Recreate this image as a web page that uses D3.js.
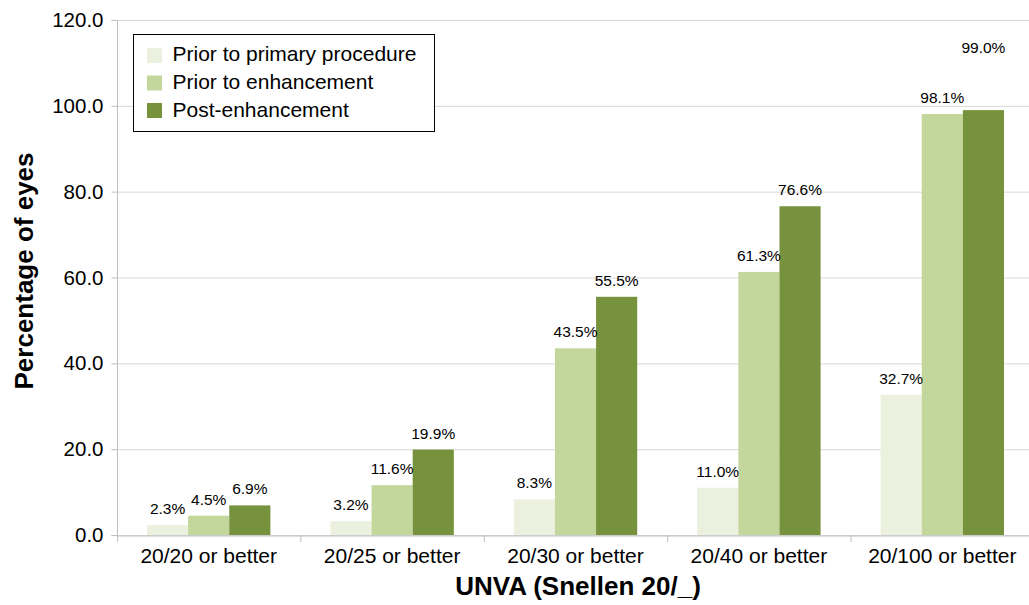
<!DOCTYPE html>
<html><head><meta charset="utf-8">
<script src="https://cdn.jsdelivr.net/npm/d3@7"></script>
<style>body{margin:0;background:#fff}svg{display:block;font-family:"Liberation Sans",Arial,sans-serif}</style>
</head><body><svg id="c" width="1029" height="605"></svg>
<script>
const categories = ["20/20 or better","20/25 or better","20/30 or better","20/40 or better","20/100 or better"];
const seriesNames = ["Prior to primary procedure","Prior to enhancement","Post-enhancement"];
const priorPrimary = [2.3, 3.2, 8.3, 11.0, 32.7];
const priorEnh = [4.5, 11.6, 43.5, 61.3, 98.1];
const postEnh = [6.9, 19.9, 55.5, 76.6, 99.0];
const yTicks = [0, 20, 40, 60, 80, 100, 120];
const colors = ["#EBF1DE", "#C3D69B", "#76923C"];
const series = [priorPrimary, priorEnh, postEnh];

const svg = d3.select("#c");
const m = {l:117, t:20, r:1034, b:535};
const x = d3.scaleBand().domain(categories).range([m.l, m.r]).paddingInner(0).paddingOuter(0);
const y = d3.scaleLinear().domain([0,120]).range([m.b, m.t]);
const inner = d3.scaleBand().domain(d3.range(series.length)).range([30, x.bandwidth()-30]).padding(0);

// gridlines
svg.append("g").selectAll("line").data(yTicks).join("line")
  .attr("x1", m.l).attr("x2", 1029).attr("y1", d=>y(d)+0.5).attr("y2", d=>y(d)+0.5)
  .attr("stroke", "#d9d9d9").attr("stroke-width", 1);

// y axis
const ya = svg.append("g").attr("transform", `translate(${m.l+0.5},0)`)
  .call(d3.axisLeft(y).tickValues(yTicks).tickFormat(d3.format(".1f")).tickSize(6).tickPadding(8));
ya.select(".domain").attr("stroke", "#bfbfbf").attr("d", `M-6,${m.b+0.5}H0V${m.t+0.5}H-6`);
ya.selectAll(".tick line").attr("stroke", "#bfbfbf");
ya.selectAll(".tick text").attr("font-size", 20.5).attr("fill", "#000").attr("font-family", "Liberation Sans, Arial, sans-serif");

// bars
const groups = svg.append("g").selectAll("g").data(categories).join("g")
  .attr("transform", d=>`translate(${x(d)},0)`);
groups.selectAll("rect").data((c,i)=>series.map((s,k)=>({k, v:s[i]}))).join("rect")
  .attr("x", d=>inner(d.k)).attr("width", inner.bandwidth())
  .attr("y", d=>y(d.v)).attr("height", d=>y(0)-y(d.v))
  .attr("fill", d=>colors[d.k]);

// data labels with simple collision avoidance
groups.each(function(c, i){
  const g = d3.select(this);
  let prev = null;
  series.forEach((s, k) => {
    const cx = inner(k) + inner.bandwidth()/2;
    const t = g.append("text").attr("x", cx)
      .attr("text-anchor", "middle").attr("font-size", 15.5).attr("fill", "#000")
      .text(s[i].toFixed(1) + "%");
    const w = t.node().getComputedTextLength();
    let ly = y(s[i]) - 11;
    if (prev && Math.abs(ly - prev.y) < 16 && (cx - w/2) < (prev.x + prev.w/2)) ly = prev.y - 50;
    t.attr("y", ly);
    prev = {x: cx, y: ly, w};
  });
});

// x axis
const xa = svg.append("g").attr("transform", `translate(0,${m.b+0.5})`)
  .call(d3.axisBottom(x).tickSize(0));
xa.select(".domain").attr("stroke", "#bfbfbf");
xa.selectAll(".tick text").attr("font-size", 21).attr("fill", "#000")
  .attr("font-family", "Liberation Sans, Arial, sans-serif").attr("dy", null).attr("y", 27.5);
svg.append("g").selectAll("line").data(categories).join("line")
  .attr("x1", d=>x(d)+0.5).attr("x2", d=>x(d)+0.5).attr("y1", m.b).attr("y2", m.b+7)
  .attr("stroke", "#bfbfbf");

// axis titles
svg.append("text").attr("x", 578).attr("y", 595).attr("text-anchor","middle")
  .attr("font-size", 26).attr("font-weight","bold").text("UNVA (Snellen 20/_)");
svg.append("text").attr("transform", "translate(33,271) rotate(-90)").attr("text-anchor","middle")
  .attr("font-size", 26).attr("font-weight","bold").text("Percentage of eyes");

// legend
const lg = svg.append("g").attr("transform", "translate(133.5,34.5)");
lg.append("rect").attr("width", 301).attr("height", 97).attr("fill","#fff").attr("stroke","#000").attr("stroke-width",1);
seriesNames.forEach((n,k)=>{
  lg.append("rect").attr("x", 13.5).attr("y", 13.5 + k*27.5).attr("width", 15).attr("height", 15).attr("fill", colors[k]);
  lg.append("text").attr("x", 39).attr("y", 26.5 + k*28).attr("font-size", 21).attr("fill","#000").text(n);
});
</script></body></html>
